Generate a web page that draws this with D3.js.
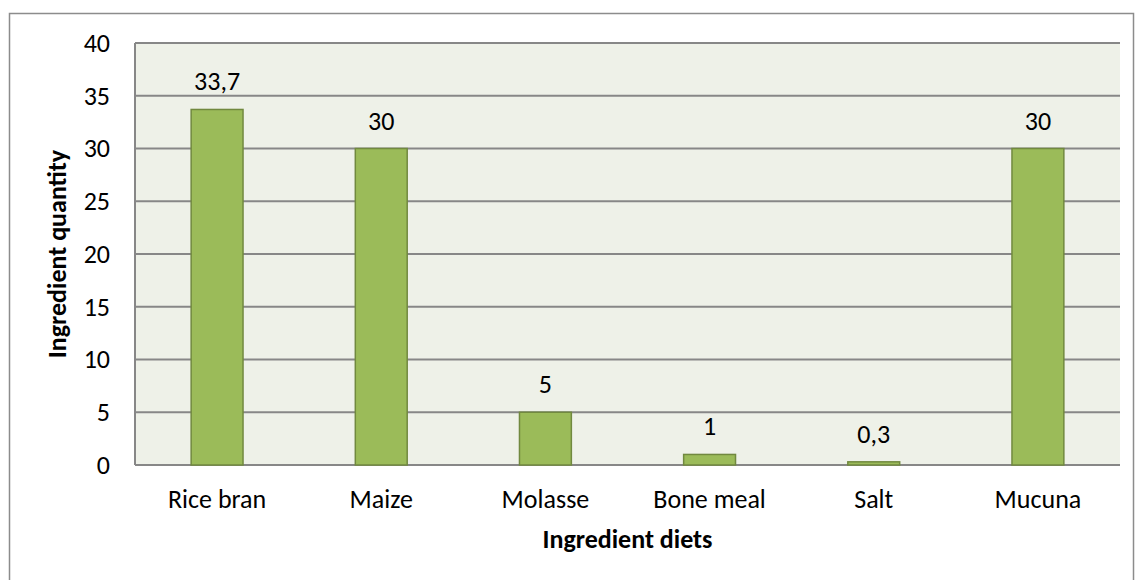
<!DOCTYPE html>
<html><head><meta charset="utf-8">
<script src="https://cdn.jsdelivr.net/npm/d3@7"></script>
<style>body{margin:0;background:#fff;}svg{display:block;font-family:Carlito,Calibri,Lato,"Open Sans",sans-serif;}</style>
</head><body><svg id="c" width="1135" height="580"></svg>
<script>
const categories = ["Rice bran","Maize","Molasse","Bone meal","Salt","Mucuna"];
const values = [33.7,30,5,1,0.3,30];
const labels = ["33,7","30","5","1","0,3","30"];
const yTicks = [0,5,10,15,20,25,30,35,40];

const svg = d3.select("#c");
const m = {l:135, t:43, r:1120, b:465};
const FS = 26;
svg.append("rect").attr("x",9.5).attr("y",13.5).attr("width",1124).attr("height",580).attr("fill","#fff").attr("stroke","#8c8c8c").attr("stroke-width",1.5);
const x = d3.scaleBand().domain(categories).range([m.l,m.r]).paddingInner(0.684).paddingOuter(0.342);
const y = d3.scaleLinear().domain([0,40]).range([m.b,m.t]);
svg.append("rect").attr("x",m.l).attr("y",m.t).attr("width",m.r-m.l).attr("height",m.b-m.t).attr("fill","#EEF1E8");
svg.append("g").selectAll("line").data(yTicks).join("line")
  .attr("x1",m.l).attr("x2",m.r).attr("y1",d=>y(d)).attr("y2",d=>y(d))
  .attr("stroke","#878787").attr("stroke-width",2);
svg.append("line").attr("x1",m.l).attr("x2",m.l).attr("y1",m.t).attr("y2",m.b).attr("stroke","#878787").attr("stroke-width",2);
svg.append("g").selectAll("rect").data(values).join("rect")
  .attr("x",(d,i)=>x(categories[i])).attr("width",x.bandwidth())
  .attr("y",d=>y(d)).attr("height",d=>y(0)-y(d))
  .attr("fill","#9BBB59").attr("stroke","#71893F").attr("stroke-width",1.5);
svg.append("g").selectAll("text").data(values).join("text")
  .attr("x",(d,i)=>x(categories[i])+x.bandwidth()/2).attr("y",d=>y(d)-19)
  .attr("text-anchor","middle").attr("font-size",FS).attr("fill","#000").text((d,i)=>labels[i]);
const ya = d3.axisLeft(y).tickValues(yTicks).tickSize(0).tickPadding(25);
svg.append("g").attr("transform",`translate(${m.l},0)`).call(ya)
  .attr("font-family",null).attr("font-size",FS)
  .call(g=>g.select(".domain").remove())
  .selectAll("text").attr("fill","#000");
const xa = d3.axisBottom(x).tickSize(0).tickPadding(25);
svg.append("g").attr("transform",`translate(0,${m.b})`).call(xa)
  .attr("font-family",null).attr("font-size",FS)
  .call(g=>g.select(".domain").remove())
  .selectAll("text").attr("fill","#000");
svg.append("text").attr("x",(m.l+m.r)/2).attr("y",548).attr("text-anchor","middle")
  .attr("font-size",FS).attr("font-weight","bold").text("Ingredient diets");
svg.append("text").attr("transform",`translate(66,${(m.t+m.b)/2}) rotate(-90)`).attr("text-anchor","middle")
  .attr("font-size",FS).attr("font-weight","bold").text("Ingredient quantity");
</script></body></html>
